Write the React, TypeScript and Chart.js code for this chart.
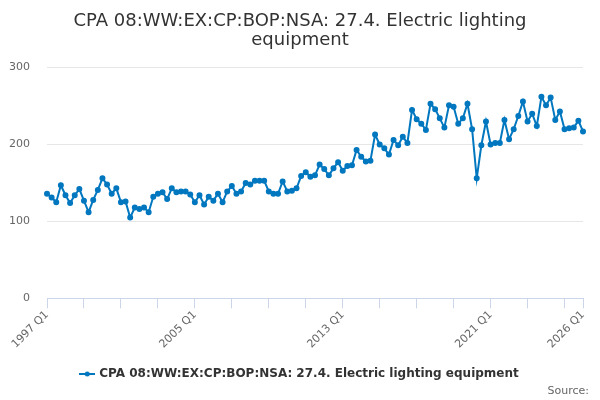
import { useEffect, useRef } from "react"
import { Chart, registerables } from "chart.js"

Chart.register(...registerables)

// quarters 1997 Q1 .. 2026 Q1
const startYear = 1997
const quarterCount = 117
const quarters: string[] = []
for (let i = 0; i < quarterCount; i++) {
  quarters.push(`${startYear + Math.floor(i / 4)} Q${(i % 4) + 1}`)
}

const seriesName = "CPA 08:WW:EX:CP:BOP:NSA: 27.4. Electric lighting equipment"

const values = [
  136, 131, 125, 147, 134, 124, 134, 142, 127, 112, 128, 141, 156, 148, 136, 143,
  125, 126, 105, 118, 116, 118, 112, 132, 136, 138, 129, 143, 138, 139, 139, 135,
  125, 134, 122, 132, 127, 136, 125, 139, 146, 136, 139, 150, 148, 153, 153, 153,
  139, 136, 136, 152, 139, 140, 143, 159, 164, 158, 160, 174, 168, 160, 169, 177,
  166, 172, 173, 193, 184, 178, 179, 213, 200, 195, 187, 206, 199, 210, 202, 245,
  233, 227, 219, 253, 246, 234, 222, 251, 249, 227, 234, 253, 220, 156, 199, 230,
  200, 202, 202, 232, 207, 220, 237, 256, 230, 240, 224, 262, 251, 261, 232, 243,
  220, 221, 222, 231, 217,
]

const yTicks = [0, 100, 200, 300]

const lineColor = "#0077bf"
const font = "'DejaVu Sans', Verdana, sans-serif"

// legend symbol: short line with a dot
function makeLegendIcon() {
  const c = document.createElement("canvas")
  c.width = 16
  c.height = 8
  const g = c.getContext("2d")
  if (g) {
    g.strokeStyle = lineColor
    g.lineWidth = 2
    g.beginPath()
    g.moveTo(0, 4)
    g.lineTo(16, 4)
    g.stroke()
    g.fillStyle = lineColor
    g.beginPath()
    g.arc(8, 4, 2.5, 0, Math.PI * 2)
    g.fill()
  }
  return c
}

export default function App() {
  const chartRef = useRef<HTMLCanvasElement>(null)
  const chartInstanceRef = useRef<Chart | null>(null)

  useEffect(() => {
    if (!chartRef.current) return
    const ctx = chartRef.current.getContext("2d")
    if (!ctx) return
    if (chartInstanceRef.current) chartInstanceRef.current.destroy()

    chartInstanceRef.current = new Chart(ctx, {
      type: "line",
      data: {
        labels: quarters,
        datasets: [
          {
            label: seriesName,
            data: values,
            borderColor: lineColor,
            backgroundColor: lineColor,
            borderWidth: 2,
            pointRadius: 2,
            pointHoverRadius: 3,
            tension: 0,
          },
        ],
      },
      options: {
        animation: false,
        responsive: true,
        maintainAspectRatio: false,
        layout: { padding: { left: 0, right: 0, top: 0, bottom: 10 } },
        plugins: {
          title: {
            display: true,
            text: ["CPA 08:WW:EX:CP:BOP:NSA: 27.4. Electric lighting", "equipment"],
            color: "#333333",
            font: { family: font, size: 18, weight: "normal", lineHeight: 1.1 },
            padding: { top: 11, bottom: 17 },
          },
          legend: {
            position: "bottom",
            labels: {
              usePointStyle: true,
              pointStyle: makeLegendIcon(),
              color: "#333333",
              font: { family: font, size: 12, weight: "bold" },
              padding: 13,
            },
          },
          tooltip: { enabled: false },
        },
        scales: {
          x: {
            offset: false,
            afterFit: (scale) => {
              scale.height += 4
            },
            grid: {
              display: true,
              drawOnChartArea: false,
              drawTicks: true,
              tickLength: 10,
              color: "#ccd6eb",
            },
            border: { display: true, color: "#ccd6eb" },
            ticks: {
              autoSkip: false,
              maxRotation: 45,
              minRotation: 45,
              color: "#666666",
              font: { family: font, size: 11 },
              padding: 0,
              callback: (_v, index) => {
                if (index % 32 === 0 || index === quarterCount - 1) return quarters[index]
                if (index % 8 === 0) return ""
                return null
              },
            },
          },
          y: {
            min: yTicks[0],
            max: yTicks[yTicks.length - 1],
            afterFit: (scale) => {
              scale.width = 47
            },
            afterBuildTicks: (scale) => {
              scale.ticks = yTicks.map((v) => ({ value: v }))
            },
            grid: { color: "#e6e6e6", drawTicks: false },
            border: { display: false },
            ticks: {
              color: "#666666",
              font: { family: font, size: 11 },
              padding: 17,
            },
          },
          // empty right-hand margin so title and legend centre on the whole canvas
          yRight: {
            type: "linear",
            position: "right",
            afterFit: (scale) => {
              scale.width = 17
            },
            grid: { display: false, drawTicks: false },
            border: { display: false },
            ticks: { display: false },
          },
        },
      },
    })

    return () => {
      if (chartInstanceRef.current) {
        chartInstanceRef.current.destroy()
        chartInstanceRef.current = null
      }
    }
  }, [])

  return (
    <div style={{ position: "fixed", left: 0, top: 0, width: 600, height: 400, background: "#fff" }}>
      <canvas ref={chartRef} />
      <div
        style={{
          position: "absolute",
          right: 11,
          bottom: 3,
          fontFamily: font,
          fontSize: 11,
          color: "#666666",
        }}
      >
        Source:
      </div>
    </div>
  )
}
